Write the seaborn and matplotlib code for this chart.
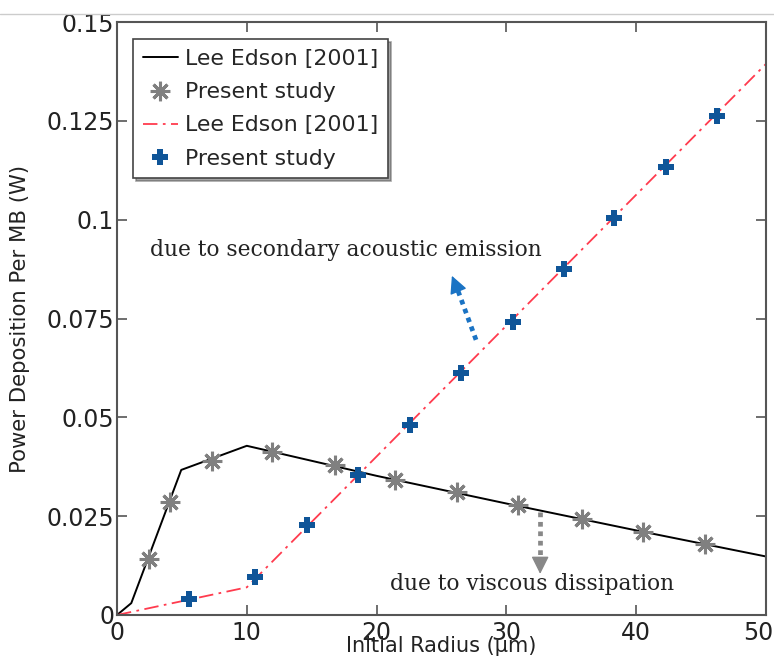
import numpy as np
import pandas as pd
import matplotlib
matplotlib.use("Agg")
import matplotlib.pyplot as plt
import matplotlib.transforms as mtransforms
import seaborn as sns

# ---- data ----
lee_visc_x = [0, 1.1, 4.95, 10.0, 20, 30, 40, 50]
lee_visc_y = [0, 0.003, 0.0367, 0.0428, 0.0352, 0.0282, 0.0214, 0.0148]

star_x = [2.47, 4.09, 7.34, 11.97, 16.76, 21.4, 26.2, 30.9, 35.8, 40.5, 45.3]
star_y = [0.0141, 0.0287, 0.0390, 0.0413, 0.0380, 0.0342, 0.0312, 0.0277, 0.0244, 0.0211, 0.0179]

lee_ac_x = [0, 10.0, 50]
lee_ac_y = [0, 0.0070, 0.1394]

plus_x = [5.56, 10.66, 14.67, 18.53, 22.6, 26.5, 30.5, 34.4, 38.3, 42.3, 46.2]
plus_y = [0.0040, 0.0096, 0.0227, 0.0355, 0.0480, 0.0612, 0.0742, 0.0874, 0.1005, 0.1132, 0.1262]

x_ticks = [0, 10, 20, 30, 40, 50]
y_ticks = [0, 0.025, 0.05, 0.075, 0.1, 0.125, 0.15]
y_tick_labels = ["0", "0.025", "0.05", "0.075", "0.1", "0.125", "0.15"]

sns.set_theme(style="white")
plt.rcParams['font.family'] = ['DejaVu Sans']

fig = plt.figure(figsize=(7.74, 6.6), dpi=100)
ax = fig.add_axes([117/774, 45/660, (766-117)/774, (615-22)/660])

df_visc = pd.DataFrame({"x": lee_visc_x, "y": lee_visc_y})
df_star = pd.DataFrame({"x": star_x, "y": star_y})
df_ac = pd.DataFrame({"x": lee_ac_x, "y": lee_ac_y})
df_plus = pd.DataFrame({"x": plus_x, "y": plus_y})

sns.lineplot(data=df_visc, x="x", y="y", ax=ax, color="black", lw=1.4,
             label="Lee Edson [2001]", sort=False)
ax.plot(df_star.x, df_star.y, ls="none", marker=(8, 2, 0), ms=14, mew=2.2,
        color="#808080", label="Present study")
sns.lineplot(data=df_ac, x="x", y="y", ax=ax, color="#ff3b4e", lw=1.3,
             dashes=False, label="Lee Edson [2001]", sort=False)
ax.lines[-1].set_linestyle((0, (8, 3, 1.5, 3)))
ax.plot(df_plus.x, df_plus.y, ls="none", marker="P", ms=11, mew=0,
        color="#0f5598", label="Present study")

ax.set_xlim(0, 50)
ax.set_ylim(0, 0.15)
ax.set_xticks(x_ticks)
ax.set_xticklabels([str(t) for t in x_ticks], fontsize=17)
ax.set_yticks(y_ticks)
ax.set_yticklabels(y_tick_labels, fontsize=17)
ax.tick_params(direction="in", length=7, width=1.2, color="#555555",
               top=True, right=True, bottom=True, left=True,
               labelcolor="#222222")
ax.tick_params(axis="x", pad=4)
ax.tick_params(axis="y", pad=2)
# nudge the last x tick label left so it stays inside the figure
lbl = ax.get_xticklabels()[-1]
lbl.set_transform(lbl.get_transform() +
                  mtransforms.ScaledTranslation(-8/100, 0, fig.dpi_scale_trans))
for s in ax.spines.values():
    s.set_visible(True)
    s.set_color("#555555")
    s.set_linewidth(1.5)

ax.set_xlabel("Initial Radius (\u03bcm)", fontsize=15, labelpad=-6, color="#222222")
ax.set_ylabel("Power Deposition Per MB (W)", fontsize=15.2, labelpad=12, color="#222222")

leg = ax.legend(loc="upper left", bbox_to_anchor=(0.0247, 0.971), borderaxespad=0,
                fontsize=15.8, frameon=True, fancybox=False, shadow=True,
                edgecolor="#444444", framealpha=1, borderpad=0.45,
                labelspacing=0.6, handlelength=1.6, handletextpad=0.3)
leg.get_frame().set_linewidth(1.2)

serif = ['DejaVu Serif']
ax.text(2.54, 0.0923, "due to secondary acoustic emission", fontsize=15.7,
        family=serif, color="#222222", ha="left", va="center")
ax.text(21.0, 0.0078, "due to viscous dissipation", fontsize=15.7,
        family=serif, color="#222222", ha="left", va="center")

# dotted shafts + solid heads
blue = "#1a73c4"
grey = "#888888"
ax.plot([27.66, 26.25], [0.0696, 0.0822], color=blue, lw=3.4, ls=(0, (1, 1)),
        solid_capstyle="butt")
ax.annotate("", xy=(25.8, 0.0858), xytext=(26.25, 0.0822),
            arrowprops=dict(arrowstyle="-|>,head_length=0.9,head_width=0.45",
                            color=blue, lw=1, mutation_scale=12,
                            shrinkA=0, shrinkB=0))
ax.plot([32.6, 32.6], [0.0261, 0.0135], color=grey, lw=3.4, ls=(0, (1, 1)),
        solid_capstyle="butt")
ax.annotate("", xy=(32.6, 0.0104), xytext=(32.6, 0.0135),
            arrowprops=dict(arrowstyle="-|>,head_length=0.9,head_width=0.45",
                            color=grey, lw=1, mutation_scale=12,
                            shrinkA=0, shrinkB=0))

fig.add_artist(plt.Line2D([0, 1], [1 - 14/660, 1 - 14/660], color="#cccccc",
                          lw=1, transform=fig.transFigure))

fig.savefig("out.png", dpi=100)
